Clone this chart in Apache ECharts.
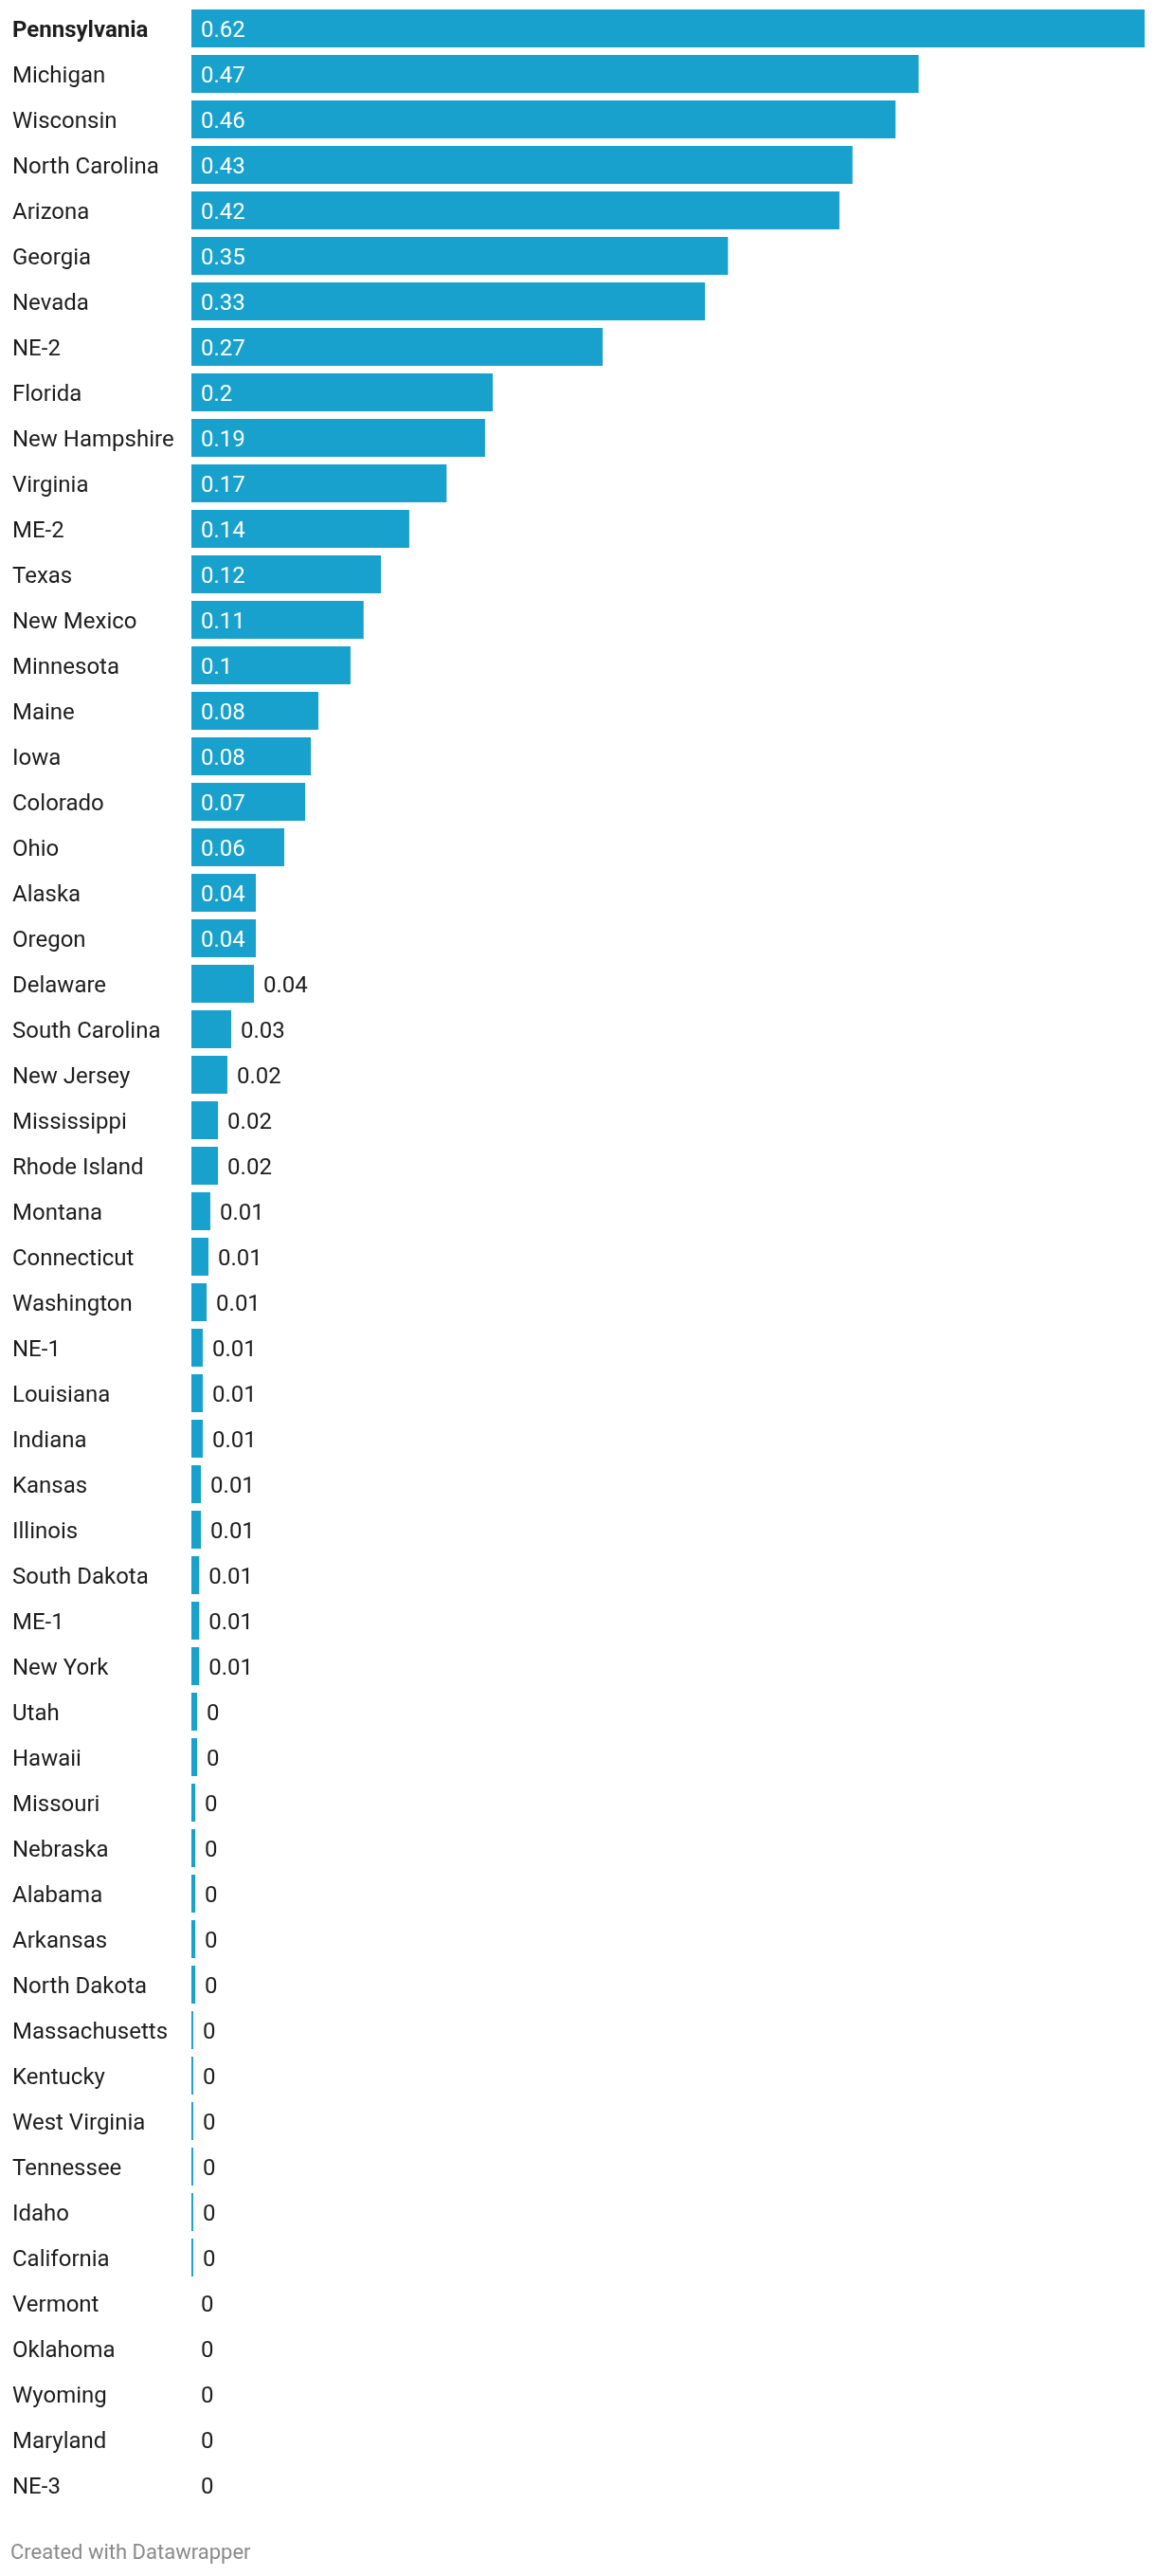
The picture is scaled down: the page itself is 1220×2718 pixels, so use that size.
<!DOCTYPE html>
<html>
<head>
<meta charset="utf-8">
<title>States</title>
<script src="https://cdn.jsdelivr.net/npm/echarts@6.0.0/dist/echarts.min.js"></script>
<style>
  html, body { margin: 0; padding: 0; background: #fff; }
  #chart { width: 1220px; height: 2718px; }
</style>
</head>
<body>
<div id="chart"></div>
<script>
// states / districts, top to bottom
const states = [
  "Pennsylvania", "Michigan", "Wisconsin", "North Carolina", "Arizona", "Georgia",
  "Nevada", "NE-2", "Florida", "New Hampshire", "Virginia", "ME-2", "Texas",
  "New Mexico", "Minnesota", "Maine", "Iowa", "Colorado", "Ohio", "Alaska",
  "Oregon", "Delaware", "South Carolina", "New Jersey", "Mississippi",
  "Rhode Island", "Montana", "Connecticut", "Washington", "NE-1", "Louisiana",
  "Indiana", "Kansas", "Illinois", "South Dakota", "ME-1", "New York", "Utah",
  "Hawaii", "Missouri", "Nebraska", "Alabama", "Arkansas", "North Dakota",
  "Massachusetts", "Kentucky", "West Virginia", "Tennessee", "Idaho",
  "California", "Vermont", "Oklahoma", "Wyoming", "Maryland", "NE-3"
];
// values (labels show them rounded to 2 places)
const values = [
  0.62, 0.473, 0.458, 0.43, 0.4215, 0.349,
  0.334, 0.2675, 0.196, 0.191, 0.166, 0.1417, 0.1233,
  0.112, 0.1035, 0.0826, 0.0777, 0.074, 0.0604, 0.0419,
  0.0419, 0.0407, 0.0259, 0.0234, 0.0173,
  0.0173, 0.0123, 0.0111, 0.0099, 0.0074, 0.0074,
  0.0074, 0.0062, 0.0062, 0.0051, 0.0051, 0.0051, 0.0037,
  0.0037, 0.0025, 0.0025, 0.0025, 0.0025, 0.0025,
  0.0012, 0.0012, 0.0012, 0.0012, 0.0012,
  0.0012, 0, 0, 0, 0, 0
];
const highlight = ["Pennsylvania"];

const FONT = "Roboto, 'Noto Sans', sans-serif";
const TEXT = "#1d1d1d";
const BLUE = "#18a1cd";

const fmt = (v) => String(+v.toFixed(2));

const chart = echarts.init(document.getElementById("chart"));

const barData = values.map((v) => {
  const inside = v > 0.041;
  return {
    value: v,
    label: inside
      ? { position: "insideLeft", distance: 10, color: "#fff" }
      : { position: "right", distance: 10, color: TEXT },
  };
});

const option = {
  animation: false,
  grid: { left: 202, right: 12, top: 6, bottom: 72, containLabel: false },
  xAxis: {
    type: "value",
    min: 0,
    max: Math.max(...values),
    show: false,
  },
  yAxis: {
    type: "category",
    data: states,
    inverse: true,
    axisLine: { show: false },
    axisTick: { show: false },
    splitLine: { show: false },
    axisLabel: {
      align: "left",
      margin: 189,
      padding: [6, 0, 0, 0],
      fontFamily: FONT,
      fontSize: 24,
      color: TEXT,
      formatter: (name) => (highlight.includes(name) ? "{b|" + name + "}" : name),
      rich: {
        b: { fontFamily: FONT, fontSize: 24, fontWeight: "bold", color: TEXT },
      },
    },
  },
  series: [
    {
      type: "bar",
      data: barData,
      barWidth: 40,
      itemStyle: { color: BLUE },
      label: {
        show: true,
        offset: [0, 3],
        fontFamily: FONT,
        fontSize: 24,
        formatter: (p) => fmt(p.value),
      },
    },
  ],
  graphic: [
    {
      type: "text",
      left: 11,
      top: 2683,
      style: {
        text: "Created with Datawrapper",
        fontFamily: FONT,
        fontSize: 22,
        fill: "#8a8a8a",
      },
    },
  ],
};
chart.setOption(option);
</script>
</body>
</html>
